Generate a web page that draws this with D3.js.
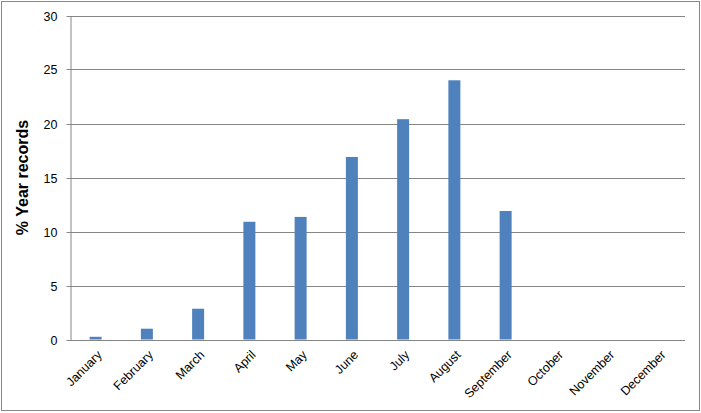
<!DOCTYPE html>
<html><head><meta charset="utf-8">
<script src="https://cdn.jsdelivr.net/npm/d3@7"></script>
<style>body{margin:0;background:#fff}svg{display:block}</style>
</head><body>
<svg id="c" width="701" height="413"></svg>
<script>
const months = ["January","February","March","April","May","June","July","August","September","October","November","December"];
const values = [0.25, 1.0, 2.85, 10.9, 11.35, 16.9, 20.4, 24.0, 11.9, null, null, null];
const yTicks = [0, 5, 10, 15, 20, 25, 30];
const yTitle = "% Year records";

const svg = d3.select("#c");
const W = 701, H = 413;
const m = {left: 70, right: 16, top: 15.5, bottom: 73.5};
const x = d3.scaleBand().domain(months).range([m.left, W - m.right]).paddingInner(0.766).paddingOuter(0.383);
const y = d3.scaleLinear().domain([0, 30]).range([H - m.bottom, m.top]);

svg.append("rect").attr("x", 1.5).attr("y", 1.5).attr("width", W - 3).attr("height", H - 4)
  .attr("fill", "#fff").attr("stroke", "#888").attr("stroke-width", 1);

const gridC = "#868686";
svg.append("g").selectAll("line").data(yTicks.filter(d => d > 0)).join("line")
  .attr("x1", m.left).attr("x2", W - m.right)
  .attr("y1", d => Math.round(y(d)) + 0.5).attr("y2", d => Math.round(y(d)) + 0.5)
  .attr("stroke", gridC);

svg.append("g").selectAll("rect").data(months.map((mo, i) => ({mo, v: values[i]})).filter(d => d.v != null)).join("rect")
  .attr("x", d => x(d.mo)).attr("width", x.bandwidth())
  .attr("y", d => y(d.v)).attr("height", d => y(0) - y(d.v))
  .attr("fill", "#4F81BD");

const yAxis = svg.append("g").attr("transform", `translate(${m.left + 0.5},0)`)
  .call(d3.axisLeft(y).tickValues(yTicks).tickSize(4).tickPadding(9).tickSizeOuter(0));
yAxis.select(".domain").attr("stroke", gridC);
yAxis.selectAll(".tick line").attr("stroke", gridC);
yAxis.selectAll(".tick").attr("transform", d => `translate(0,${Math.round(y(d)) + 0.5})`);
yAxis.selectAll("text").attr("font-family", "Liberation Sans, Arial, sans-serif").attr("font-size", 12.5).attr("fill", "#000");

svg.append("line").attr("x1", m.left).attr("x2", W - m.right)
  .attr("y1", Math.round(y(0)) + 0.5).attr("y2", Math.round(y(0)) + 0.5).attr("stroke", gridC);

svg.append("g").selectAll("text").data(months).join("text")
  .attr("transform", d => `translate(${x(d) + x.bandwidth() / 2 + 4},${y(0) + 13}) rotate(-45)`)
  .attr("text-anchor", "end").attr("dy", "0.35em")
  .attr("font-family", "Liberation Sans, Arial, sans-serif").attr("font-size", 12.5).attr("fill", "#000")
  .text(d => d);

svg.append("text").attr("transform", `translate(28,${(m.top + y(0)) / 2}) rotate(-90)`)
  .attr("text-anchor", "middle").attr("font-family", "Liberation Sans, Arial, sans-serif")
  .attr("font-weight", "bold").attr("font-size", 16).attr("fill", "#000").text(yTitle);
</script>
</body></html>
